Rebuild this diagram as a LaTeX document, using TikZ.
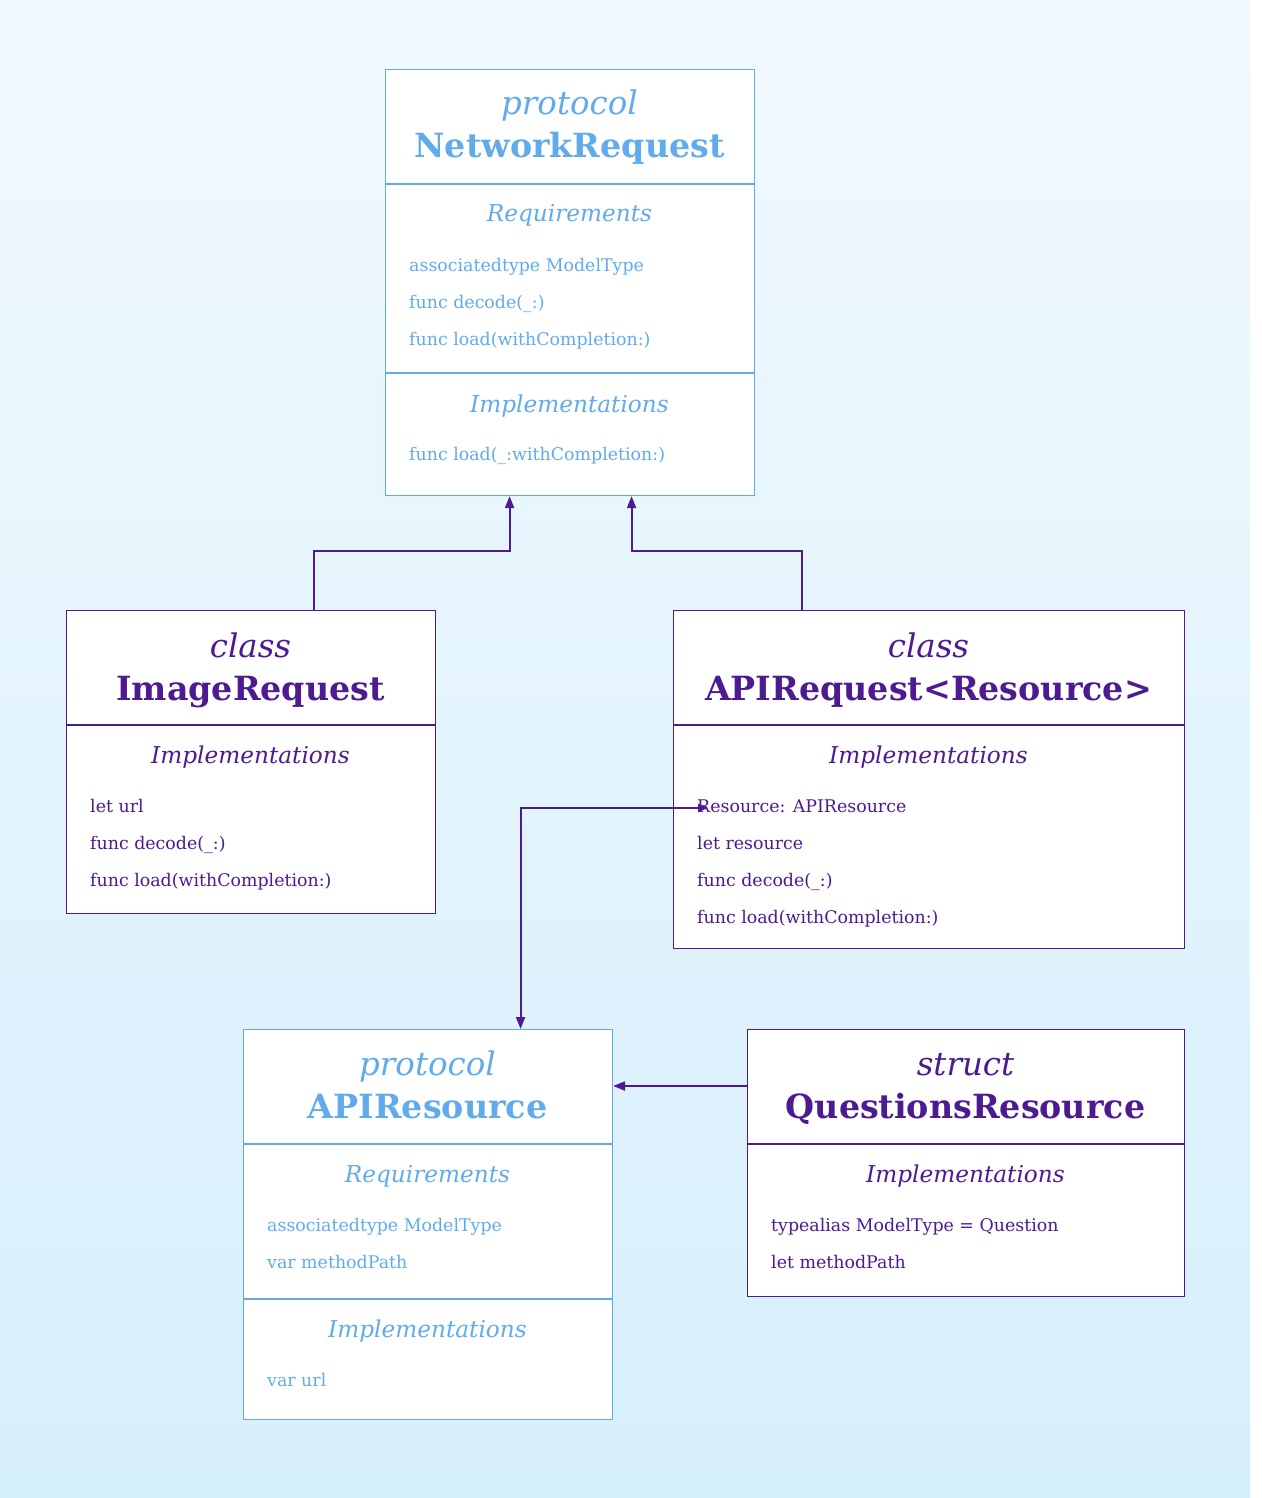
\documentclass[tikz,border=0pt]{standalone}
\usepackage{fontspec}
\setmainfont{DejaVu Serif}
\usetikzlibrary{arrows.meta}
\definecolor{pblue}{RGB}{97,171,236}
\definecolor{ppurp}{RGB}{77,26,145}
\definecolor{bgtop}{RGB}{241,249,254}
\definecolor{bgbot}{RGB}{214,239,252}
\tikzset{
 box/.style={draw, fill=white, line width=1.1pt, rectangle, inner sep=0pt, anchor=north west},
 kind/.style={anchor=base, font=\fontsize{32.5}{38}\selectfont\itshape, inner sep=0pt},
 tname/.style={anchor=base, font=\fontsize{33.3}{38}\selectfont\bfseries, inner sep=0pt},
 sect/.style={anchor=base, font=\fontsize{23.2}{27}\selectfont\itshape, inner sep=0pt},
 item/.style={anchor=base west, font=\fontsize{17.4}{20}\selectfont, inner sep=0pt},
 divline/.style={line width=1.1pt},
 conn/.style={draw=ppurp, line width=2pt, -{Triangle[length=12pt,width=9pt]}},
}
\begin{document}
\begin{tikzpicture}[x=1pt,y=-1pt]
\useasboundingbox (0,0) rectangle (1261,1498);
\fill[white] (0,0) rectangle (1261,1498);
\shade[top color=bgtop, bottom color=bgbot] (0,0) rectangle (1250,1498);

% NetworkRequest
\node[box, draw=pblue, minimum width=369pt, minimum height=426pt] (nr) at (385,69) {};
\draw[divline, pblue] (nr.west |- 0,184) -- (nr.east |- 0,184);
\draw[divline, pblue] (nr.west |- 0,373) -- (nr.east |- 0,373);
\node[kind, pblue] (nrk) at (569.5,115) {protocol};
\node[tname, pblue] (nrn) at (569.5,158) {NetworkRequest};
\node[sect, pblue] (nrs1) at (569.5,222) {Requirements};
\node[item, pblue] (nri1) at (409,271) {associatedtype ModelType};
\node[item, pblue] (nri2) at (409,308) {func decode(\_:)};
\node[item, pblue] (nri3) at (409,345) {func load(withCompletion:)};
\node[sect, pblue] (nrs2) at (569.5,412) {Implementations};
\node[item, pblue] (nri4) at (409,460) {func load(\_:withCompletion:)};

% ImageRequest
\node[box, draw=ppurp, minimum width=369pt, minimum height=303pt] (ir) at (66,610) {};
\draw[divline, ppurp] (ir.west |- 0,725) -- (ir.east |- 0,725);
\node[kind, ppurp] (irk) at (250.5,657) {class};
\node[tname, ppurp] (irn) at (250.5,700) {ImageRequest};
\node[sect, ppurp] (irs) at (250.5,763) {Implementations};
\node[item, ppurp] (iri1) at (90,812) {let url};
\node[item, ppurp] (iri2) at (90,849) {func decode(\_:)};
\node[item, ppurp] (iri3) at (90,886) {func load(withCompletion:)};

% APIRequest
\node[box, draw=ppurp, minimum width=511pt, minimum height=338pt] (ar) at (673,610) {};
\draw[divline, ppurp] (ar.west |- 0,725) -- (ar.east |- 0,725);
\node[kind, ppurp] (ark) at (928.5,657) {class};
\node[tname, ppurp] (arn) at (928.5,700) {APIRequest<Resource>};
\node[sect, ppurp] (ars) at (928.5,763) {Implementations};
\node[item, ppurp] (ari1) at (697,812) {Resource: APIResource};
\node[item, ppurp] (ari2) at (697,849) {let resource};
\node[item, ppurp] (ari3) at (697,886) {func decode(\_:)};
\node[item, ppurp] (ari4) at (697,923) {func load(withCompletion:)};

% APIResource
\node[box, draw=pblue, minimum width=369pt, minimum height=390pt] (api) at (243,1029) {};
\draw[divline, pblue] (api.west |- 0,1144) -- (api.east |- 0,1144);
\draw[divline, pblue] (api.west |- 0,1299) -- (api.east |- 0,1299);
\node[kind, pblue] (apk) at (427.5,1075) {protocol};
\node[tname, pblue] (apn) at (427.5,1118) {APIResource};
\node[sect, pblue] (aps1) at (427.5,1182) {Requirements};
\node[item, pblue] (api1) at (267,1231) {associatedtype ModelType};
\node[item, pblue] (api2) at (267,1268) {var methodPath};
\node[sect, pblue] (aps2) at (427.5,1337) {Implementations};
\node[item, pblue] (api3) at (267,1386) {var url};

% QuestionsResource
\node[box, draw=ppurp, minimum width=437pt, minimum height=267pt] (qr) at (747,1029) {};
\draw[divline, ppurp] (qr.west |- 0,1144) -- (qr.east |- 0,1144);
\node[kind, ppurp] (qrk) at (965.5,1075) {struct};
\node[tname, ppurp] (qrn) at (965.5,1118) {QuestionsResource};
\node[sect, ppurp] (qrs) at (965.5,1182) {Implementations};
\node[item, ppurp] (qri1) at (771,1231) {typealias ModelType = Question};
\node[item, ppurp] (qri2) at (771,1268) {let methodPath};

% connectors
\draw[conn] ([xshift=62.5pt]ir.north) -- ++(0,-59) -| ([xshift=-60.5pt]nr.south);
\draw[conn] ([xshift=-127.5pt]ar.north) -- ++(0,-59) -| ([xshift=61.5pt]nr.south);
\coordinate (rs) at (ari1.base west);
\draw[conn, {Triangle[length=10pt,width=8pt]}-{Triangle[length=12pt,width=9pt]}] ([xshift=11pt,yshift=4pt]rs) -| ([xshift=92.5pt]api.north);
\draw[conn] (qr.west |- 0,1086) -- (api.east |- 0,1086);
\end{tikzpicture}
\end{document}
